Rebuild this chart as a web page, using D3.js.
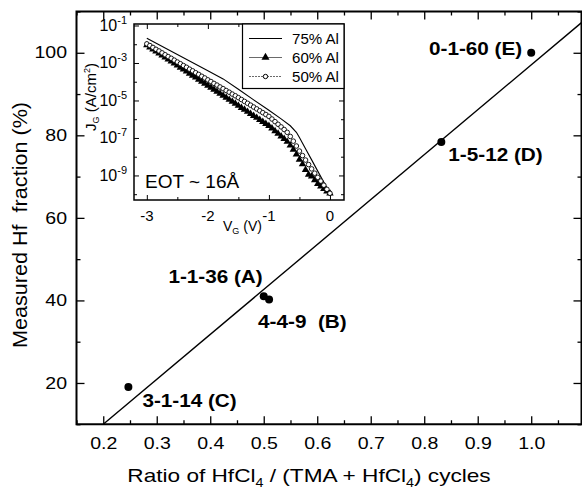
<!DOCTYPE html>
<html>
<head>
<meta charset="utf-8">
<script src="https://cdn.jsdelivr.net/npm/d3@7"></script>
<style>
  body { margin: 0; background: #fff; }
  text { font-family: "Liberation Sans", Arial, Helvetica, sans-serif; fill: #000; }
</style>
</head>
<body>
<div id="container"></div>
<script>
/* CONSTANTS AND GLOBALS */
const width = 582,
  height = 493,
  margin = { top: 11.5, bottom: 68.75, left: 76.5, right: 0.5 };

/* DATA */
// main plot
const ratio = [0.247, 0.5, 0.51, 0.832, 1.0];
const hfFraction = [19, 41, 40.2, 78.4, 100];
const sampleNames = ["3-1-14 (C)", "1-1-36 (A)", "4-4-9  (B)", "1-5-12 (D)", "0-1-60 (E)"];
const fitX = [0.2, 1.094];
const fitY = [10, 107.3];
const xTicks = [0.2, 0.3, 0.4, 0.5, 0.6, 0.7, 0.8, 0.9, 1.0];
const xMinor = [0.15, 0.25, 0.35, 0.45, 0.55, 0.65, 0.75, 0.85, 0.95, 1.05];
const yTicks = [20, 40, 60, 80, 100];
const yMinor = [10, 30, 50, 70, 90, 110];

// inset: gate leakage, log10(J_G)
const insetV = [-3.00, -2.95, -2.90, -2.85, -2.80, -2.75, -2.70, -2.65, -2.60, -2.55,
  -2.50, -2.45, -2.40, -2.35, -2.30, -2.25, -2.20, -2.15, -2.10, -2.05,
  -2.00, -1.95, -1.90, -1.85, -1.80, -1.75, -1.70, -1.65, -1.60, -1.55,
  -1.50, -1.45, -1.40, -1.35, -1.30, -1.25, -1.20, -1.15, -1.10, -1.05,
  -1.00, -0.95, -0.90, -0.85, -0.80, -0.75, -0.70, -0.65, -0.60, -0.55,
  -0.50, -0.45, -0.40, -0.35, -0.30, -0.25, -0.20, -0.15, -0.10, -0.05, 0.00];
const logJ50 = [-1.98, -2.07, -2.17, -2.27, -2.36, -2.46, -2.56, -2.66, -2.75, -2.85,
  -2.95, -3.04, -3.14, -3.23, -3.33, -3.42, -3.52, -3.61, -3.71, -3.80,
  -3.90, -3.99, -4.09, -4.18, -4.28, -4.37, -4.47, -4.56, -4.66, -4.75,
  -4.85, -4.95, -5.05, -5.15, -5.25, -5.35, -5.45, -5.55, -5.65, -5.75,
  -5.85, -5.99, -6.13, -6.27, -6.41, -6.55, -6.70, -6.92, -7.17, -7.43,
  -7.70, -7.94, -8.18, -8.42, -8.65, -8.88, -9.10, -9.30, -9.52, -9.74, -9.95];
const logJ60 = [-2.05, -2.16, -2.27, -2.38, -2.48, -2.59, -2.70, -2.81, -2.91, -3.02,
  -3.13, -3.24, -3.34, -3.45, -3.56, -3.67, -3.77, -3.88, -3.99, -4.10,
  -4.20, -4.31, -4.42, -4.53, -4.63, -4.74, -4.85, -4.96, -5.06, -5.17,
  -5.28, -5.39, -5.49, -5.60, -5.71, -5.82, -5.92, -6.03, -6.14, -6.25,
  -6.35, -6.49, -6.63, -6.77, -6.91, -7.05, -7.20, -7.40, -7.62, -7.88,
  -8.15, -8.40, -8.70, -8.95, -9.05, -9.25, -9.45, -9.58, -9.72, -9.85, -9.95];
const v75 = [-3.0, -2.5, -2.0, -1.75, -1.5, -1.25, -1.0, -0.8, -0.65, -0.55, -0.5, -0.4, -0.3, -0.2, -0.1, 0.0];
const logJ75 = [-1.68, -2.55, -3.42, -3.85, -4.40, -4.97, -5.52, -5.98, -6.35, -6.70, -6.98, -7.58, -8.17, -8.77, -9.36, -9.95];
const insetXTicks = [-3, -2, -1, 0];
const insetXMinor = [-2.5, -1.5, -0.5];
const insetYExp = [-1, -3, -5, -7, -9];
const insetYMinorExp = [-2, -4, -6, -8, -10];
const legendLabels = ["75% Al", "60% Al", "50% Al"];

// label placement relative to each dot (pixels)
const labelOffsets = [[14, 20, "start"], [-1, -13, "end"], [-11, 28, "start"], [7, 19, "start"], [-9, 2, "end"]];

// widen glyphs like the scanned original
function stretch(sel, k) {
  sel.each(function () {
    const w = this.getComputedTextLength();
    d3.select(this).attr("textLength", w * k).attr("lengthAdjust", "spacingAndGlyphs");
  });
}

const svg = d3.select("#container")
  .append("svg")
  .attr("width", width)
  .attr("height", height);

/* MAIN SCALES */
const xScale = d3.scaleLinear([0.15, 1.094], [margin.left, width - margin.right]);
const yScale = d3.scaleLinear([10, 110], [height - margin.bottom, margin.top]);
const x0 = xScale.range()[0], x1 = xScale.range()[1];
const y0 = yScale.range()[0], y1 = yScale.range()[1];

/* MAIN AXES */
function tickAxis(axis, values, size, tr) {
  const g = svg.append("g")
    .attr("transform", tr)
    .call(axis.tickValues(values).tickSize(-size).tickSizeOuter(0).tickFormat(""));
  g.select(".domain").remove();
  g.selectAll("line").attr("stroke", "#000").attr("stroke-width", 1.3);
  return g;
}
// bottom
const xAxisG = svg.append("g")
  .attr("transform", `translate(0,${y0})`)
  .call(d3.axisBottom(xScale).tickValues(xTicks).tickSize(-8).tickSizeOuter(0)
    .tickPadding(13).tickFormat(d3.format(".1f")));
xAxisG.select(".domain").remove();
xAxisG.selectAll("line").attr("stroke", "#000").attr("stroke-width", 1.3);
xAxisG.selectAll("text").attr("font-size", 16).attr("fill", "#000")
  .style("font-family", '"Liberation Sans", Arial, sans-serif').call(stretch, 1.22);
tickAxis(d3.axisBottom(xScale), xMinor, 4, `translate(0,${y0})`);
tickAxis(d3.axisTop(xScale), xTicks, 8, `translate(0,${y1})`);
tickAxis(d3.axisTop(xScale), xMinor, 4, `translate(0,${y1})`);

// left
const yAxisG = svg.append("g")
  .attr("transform", `translate(${x0},0)`)
  .call(d3.axisLeft(yScale).tickValues(yTicks).tickSize(-8).tickSizeOuter(0).tickPadding(9.5));
yAxisG.select(".domain").remove();
yAxisG.selectAll("line").attr("stroke", "#000").attr("stroke-width", 1.3);
yAxisG.selectAll("text").attr("font-size", 16).attr("fill", "#000")
  .style("font-family", '"Liberation Sans", Arial, sans-serif').call(stretch, 1.22);
tickAxis(d3.axisLeft(yScale), yMinor, 4, `translate(${x0},0)`);
tickAxis(d3.axisRight(yScale), yTicks, 8, `translate(${x1},0)`);
tickAxis(d3.axisRight(yScale), yMinor, 4, `translate(${x1},0)`);

// frame
svg.append("rect")
  .attr("x", x0).attr("y", y1)
  .attr("width", x1 - x0).attr("height", y0 - y1)
  .attr("fill", "none").attr("stroke", "#000").attr("stroke-width", 2);

/* AXIS TITLES */
const xTitle = svg.append("text")
  .attr("x", 309).attr("y", 482)
  .attr("text-anchor", "middle")
  .attr("font-size", 19);
xTitle.append("tspan").text("Ratio of HfCl");
xTitle.append("tspan").attr("font-size", 12).attr("dy", 5).text("4");
xTitle.append("tspan").attr("dy", -5).text(" / (TMA + HfCl");
xTitle.append("tspan").attr("font-size", 12).attr("dy", 5).text("4");
xTitle.append("tspan").attr("dy", -5).text(") cycles");
xTitle.call(stretch, 1.19);

svg.append("text")
  .attr("transform", "translate(27,225) rotate(-90)")
  .attr("text-anchor", "middle")
  .attr("font-size", 20)
  .style("white-space", "pre")
  .text("Measured Hf  fraction (%)")
  .call(stretch, 1.08);

/* FIT LINE AND POINTS */
const pts = ratio.map((r, i) => ({ x: r, y: hfFraction[i], name: sampleNames[i], off: labelOffsets[i] }));

svg.append("path")
  .datum(fitX.map((d, i) => [d, fitY[i]]))
  .attr("fill", "none")
  .attr("stroke", "#000")
  .attr("stroke-width", 1.4)
  .attr("d", d3.line().x(d => xScale(d[0])).y(d => yScale(d[1])));

svg.selectAll("circle.sample")
  .data(pts)
  .join("circle")
  .attr("class", "sample")
  .attr("cx", d => xScale(d.x))
  .attr("cy", d => yScale(d.y))
  .attr("r", 4)
  .attr("fill", "#000");

svg.selectAll("text.sample")
  .data(pts)
  .join("text")
  .attr("class", "sample")
  .attr("x", d => xScale(d.x) + d.off[0])
  .attr("y", d => yScale(d.y) + d.off[1])
  .attr("text-anchor", d => d.off[2])
  .attr("font-size", 18)
  .attr("font-weight", "bold")
  .style("white-space", "pre")
  .text(d => d.name)
  .call(stretch, 1.15);

/* INSET */
const xIn = d3.scaleLinear([-3.21, 0.23], [134, 344]);
const yIn = d3.scaleLog([10 ** -10.31, 10 ** -0.92], [200, 24]);
const inset = svg.append("g");

function insetTicks(axis, values, size, tr) {
  const g = inset.append("g")
    .attr("transform", tr)
    .call(axis.tickValues(values).tickSize(-size).tickSizeOuter(0).tickFormat(""));
  g.select(".domain").remove();
  g.selectAll("line").attr("stroke", "#000").attr("stroke-width", 1);
}
insetTicks(d3.axisBottom(xIn), insetXTicks, 5, "translate(0,200)");
insetTicks(d3.axisBottom(xIn), insetXMinor, 3, "translate(0,200)");
insetTicks(d3.axisTop(xIn), insetXTicks, 5, "translate(0,24)");
insetTicks(d3.axisTop(xIn), insetXMinor, 3, "translate(0,24)");
insetTicks(d3.axisLeft(yIn), insetYExp.map(e => 10 ** e), 5, "translate(134,0)");
insetTicks(d3.axisLeft(yIn), insetYMinorExp.map(e => 10 ** e), 3, "translate(134,0)");
insetTicks(d3.axisRight(yIn), insetYExp.map(e => 10 ** e), 5, "translate(344,0)");
insetTicks(d3.axisRight(yIn), insetYMinorExp.map(e => 10 ** e), 3, "translate(344,0)");

inset.append("rect")
  .attr("x", 134).attr("y", 24).attr("width", 210).attr("height", 176)
  .attr("fill", "none").attr("stroke", "#000").attr("stroke-width", 1.5);

// inset tick labels
inset.selectAll("text.xlab")
  .data(insetXTicks)
  .join("text")
  .attr("class", "xlab")
  .attr("x", d => xIn(d))
  .attr("y", 221)
  .attr("text-anchor", "middle")
  .attr("font-size", 15)
  .text(d => d === 0 ? "0" : "-" + Math.abs(d));

const ylab = inset.selectAll("text.ylab")
  .data(insetYExp)
  .join("text")
  .attr("class", "ylab")
  .attr("x", 127)
  .attr("y", d => yIn(10 ** d) + 5.5)
  .attr("text-anchor", "end")
  .attr("font-size", 16);
ylab.append("tspan").text("10");
ylab.append("tspan").attr("font-size", 11).attr("dy", -7).text(d => "-" + Math.abs(d));

// inset axis titles
const vLab = inset.append("text").attr("x", 223).attr("y", 231).attr("font-size", 14);
vLab.append("tspan").text("V");
vLab.append("tspan").attr("font-size", 9).attr("dy", 3).text("G");
vLab.append("tspan").attr("dy", -3).text(" (V)");

const jLab = inset.append("text")
  .attr("transform", "translate(96,97) rotate(-90)")
  .attr("text-anchor", "middle")
  .attr("font-size", 15);
jLab.append("tspan").text("J");
jLab.append("tspan").attr("font-size", 9).attr("dy", 3).text("G");
jLab.append("tspan").attr("dy", -3).text(" (A/cm");
jLab.append("tspan").attr("font-size", 9).attr("dy", -6).text("2");
jLab.append("tspan").attr("dy", 6).text(")");

inset.append("text")
  .attr("x", 145).attr("y", 188)
  .attr("font-size", 19)
  .text("EOT ~ 16Å");

// curves
const line75 = d3.line().x(d => xIn(d[0])).y(d => yIn(10 ** d[1]));
inset.append("path")
  .datum(v75.map((v, i) => [v, logJ75[i]]))
  .attr("fill", "none")
  .attr("stroke", "#000")
  .attr("stroke-width", 1.1)
  .attr("d", line75);

const tri = d3.symbol(d3.symbolTriangle, 24);
inset.selectAll("path.al60")
  .data(insetV.map((v, i) => [v, logJ60[i]]))
  .join("path")
  .attr("class", "al60")
  .attr("transform", d => `translate(${xIn(d[0])},${yIn(10 ** d[1])})`)
  .attr("d", tri)
  .attr("fill", "#000");

inset.selectAll("circle.al50")
  .data(insetV.map((v, i) => [v, logJ50[i]]))
  .join("circle")
  .attr("class", "al50")
  .attr("cx", d => xIn(d[0]))
  .attr("cy", d => yIn(10 ** d[1]))
  .attr("r", 2.3)
  .attr("fill", "#fff")
  .attr("stroke", "#000")
  .attr("stroke-width", 0.9);

// legend
const legend = inset.append("g");
legend.append("rect")
  .attr("x", 242.5).attr("y", 24).attr("width", 101.5).attr("height", 64.5)
  .attr("fill", "#fff").attr("stroke", "#000").attr("stroke-width", 1.2);
const legendY = [38.5, 57.5, 76.5];
legend.selectAll("line.leg")
  .data(legendLabels)
  .join("line")
  .attr("class", "leg")
  .attr("x1", 249).attr("x2", 282)
  .attr("y1", (d, i) => legendY[i]).attr("y2", (d, i) => legendY[i])
  .attr("stroke", (d, i) => i === 0 ? "#000" : "#444")
  .attr("stroke-width", (d, i) => i === 0 ? 1.1 : 0.8)
  .attr("stroke-dasharray", (d, i) => i === 2 ? "2,1" : null);
legend.append("path")
  .attr("transform", `translate(265.5,${legendY[1]})`)
  .attr("d", d3.symbol(d3.symbolTriangle, 28))
  .attr("fill", "#000");
legend.append("circle")
  .attr("cx", 265.5).attr("cy", legendY[2]).attr("r", 2.2)
  .attr("fill", "#fff").attr("stroke", "#000").attr("stroke-width", 1);
legend.selectAll("text.leg")
  .data(legendLabels)
  .join("text")
  .attr("class", "leg")
  .attr("x", 292)
  .attr("y", (d, i) => legendY[i] + 5)
  .attr("font-size", 14.5)
  .text(d => d)
  .call(stretch, 1.04);
</script>
</body>
</html>
